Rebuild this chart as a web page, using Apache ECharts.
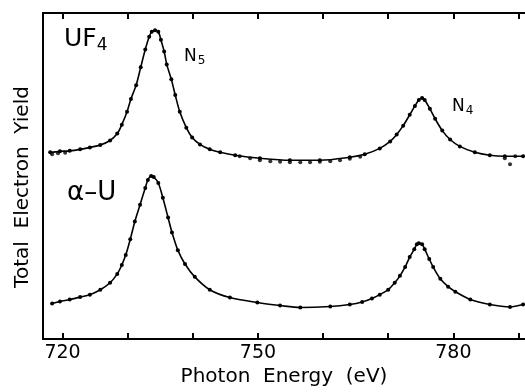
<!DOCTYPE html>
<html>
<head>
<meta charset="utf-8">
<script src="https://cdn.jsdelivr.net/npm/echarts@6/dist/echarts.min.js"></script>
<style>
  html, body { margin: 0; padding: 0; background: #fff; }
  #chart { width: 525px; height: 392px; }
</style>
</head>
<body>
<div id="chart"></div>
<script>
// tick positions (eV) and labelled ticks
const tickValues = [720, 730, 740, 750, 760, 770, 780, 790];
const tickLabels = [720, 750, 780];

// UF4 spectrum (arbitrary units)
const uf4Energy = [718.1, 719.6, 721.1, 722.7, 724.2, 725.8, 727.3, 728.4, 729.1, 729.9, 730.5, 731.3, 732.0, 732.7, 733.3, 733.7, 734.2, 734.7, 735.1, 735.6, 736.0, 736.7, 737.3, 738.0, 739.0, 739.9, 741.1, 742.6, 744.2, 746.5, 750.3, 754.9, 759.5, 764.1, 766.4, 768.7, 770.3, 771.3, 772.3, 773.3, 774.1, 774.7, 775.2, 775.6, 776.4, 777.2, 778.3, 779.5, 781.0, 783.3, 785.6, 787.9, 790.7];
const uf4Yield = [189, 190, 190.5, 192, 194, 196.5, 201, 208, 217, 230, 243, 257, 275, 293, 306, 311, 312.5, 311, 303, 291, 278, 263, 247, 230, 214, 204, 197, 192, 189, 186, 183, 181, 181, 184, 187, 193, 200, 207, 216, 227, 236, 242, 244, 242, 233, 223, 211, 202, 195, 189, 186, 185, 185];

// UF4 data points that sit off the fitted line
const uf4DotEnergy = [718.4, 719.3, 720.4, 747.2, 748.8, 750.3, 751.9, 753.4, 754.9, 756.5, 758.0, 759.5, 761.1, 762.6, 764.1, 765.7, 787.9, 788.7, 789.5];
const uf4DotYield = [187, 188, 188.5, 185, 183, 181, 180, 179.5, 179, 179, 179, 179.5, 180, 181, 182.5, 184.5, 183, 177, 185];

// alpha-U spectrum
const auEnergy = [718.4, 719.6, 721.1, 722.7, 724.2, 725.8, 727.3, 728.4, 729.1, 729.7, 730.4, 731.1, 731.9, 732.7, 733.1, 733.6, 734.0, 734.7, 735.4, 736.2, 736.8, 737.7, 738.8, 740.3, 742.6, 745.7, 749.9, 753.4, 756.5, 761.1, 764.1, 766.0, 767.5, 768.7, 770.0, 771.0, 771.8, 772.6, 773.3, 774.0, 774.4, 774.7, 775.2, 775.6, 776.3, 776.9, 778.0, 779.2, 780.3, 782.6, 785.6, 788.7, 790.7];
const auYield = [36, 38, 40, 42.5, 45, 50, 57, 66, 75, 85, 101, 119, 136, 153, 161, 165, 164, 158, 143, 123, 108, 90, 76, 63, 50, 42, 37, 34, 32, 33, 35, 37.5, 41, 45, 50, 57, 64, 73, 83, 91, 96, 97, 96, 91, 81, 73, 61, 53, 48, 40, 35, 32.5, 35];

const FONT = 'DejaVu Sans';

function pairs(xs, ys) {
    return xs.map((x, i) => [x, ys[i]]);
}

function spectrumSeries(xs, ys) {
    return {
        type: 'line',
        data: pairs(xs, ys),
        smooth: 0.3,
        symbol: 'circle',
        symbolSize: 4,
        showAllSymbol: true,
        lineStyle: { color: '#000', width: 1.6 },
        itemStyle: { color: '#000' }
    };
}

function initChart() {
    const chart = echarts.init(document.getElementById('chart'), null, { renderer: 'canvas' });
    const axisBase = {
        type: 'value',
        min: 717,
        max: 791,
        axisLine: { show: true, lineStyle: { color: '#000', width: 2 } },
        axisTick: { show: true, inside: true, length: 6, customValues: tickValues, lineStyle: { color: '#000', width: 2 } },
        splitLine: { show: false }
    };
    const option = {
        animation: false,
        backgroundColor: '#fff',
        grid: { left: 43, right: 0, top: 13, bottom: 49 },
        xAxis: [
            Object.assign({}, axisBase, {
                position: 'bottom',
                name: 'Photon  Energy  (eV)',
                nameLocation: 'middle',
                nameGap: 25,
                nameTextStyle: { color: '#000', fontFamily: FONT, fontSize: 20 },
                axisLabel: { customValues: tickLabels, margin: 4, color: '#000', fontFamily: FONT, fontSize: 19 }
            }),
            Object.assign({}, axisBase, {
                position: 'top',
                axisLabel: { show: false }
            })
        ],
        yAxis: {
            type: 'value',
            min: 0,
            max: 330,
            axisLine: { show: true, lineStyle: { color: '#000', width: 2 } },
            axisTick: { show: false },
            axisLabel: { show: false },
            splitLine: { show: false }
        },
        series: [
            spectrumSeries(uf4Energy, uf4Yield),
            {
                type: 'scatter',
                data: pairs(uf4DotEnergy, uf4DotYield),
                symbol: 'circle',
                symbolSize: 4,
                itemStyle: { color: '#000' }
            },
            spectrumSeries(auEnergy, auYield)
        ],
        graphic: [
            {
                type: 'text', x: 23, y: 187, rotation: Math.PI / 2,
                style: {
                    text: 'Total  Electron  Yield', fontFamily: FONT, fontSize: 20, fill: '#000',
                    align: 'center', verticalAlign: 'middle'
                }
            },
            {
                type: 'text', left: 64, top: 27,
                style: {
                    text: '{a|UF}{b|4}',
                    rich: {
                        a: { fontFamily: FONT, fontSize: 25, fill: '#000' },
                        b: { fontFamily: FONT, fontSize: 17, fill: '#000', padding: [13, 0, 0, 0] }
                    }
                }
            },
            {
                type: 'text', left: 184, top: 48,
                style: {
                    text: '{a|N}{b|5}',
                    rich: {
                        a: { fontFamily: FONT, fontSize: 17, fill: '#000' },
                        b: { fontFamily: FONT, fontSize: 12, fill: '#000', padding: [8, 0, 0, 1] }
                    }
                }
            },
            {
                type: 'text', left: 452, top: 98,
                style: {
                    text: '{a|N}{b|4}',
                    rich: {
                        a: { fontFamily: FONT, fontSize: 17, fill: '#000' },
                        b: { fontFamily: FONT, fontSize: 12, fill: '#000', padding: [8, 0, 0, 1] }
                    }
                }
            },
            {
                type: 'text', left: 67, top: 180,
                style: { text: 'α–U', fontFamily: FONT, fontSize: 26, fill: '#000' }
            }
        ]
    };
    chart.setOption(option);
}

document.addEventListener('DOMContentLoaded', function () {
    initChart();
});
</script>
</body>
</html>
